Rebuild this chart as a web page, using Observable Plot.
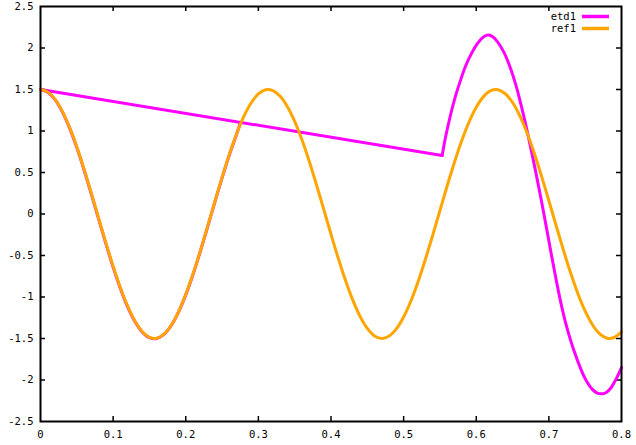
<!DOCTYPE html>
<html>
<head>
<meta charset="utf-8">
<script src="https://cdn.jsdelivr.net/npm/d3@7"></script>
<script src="https://cdn.jsdelivr.net/npm/@observablehq/plot@0.6"></script>
<style>
  html, body { margin: 0; padding: 0; background: #fff; }
  #wrap { position: relative; width: 636px; height: 445px; }
  #legend { position: absolute; right: 0; top: 0; font: 10.5px "DejaVu Sans Mono", monospace; }
  .row { position: absolute; white-space: nowrap; }
</style>
</head>
<body>
<div id="wrap"></div>
<script>
// ---- data ----
const xTicks = [0, 0.1, 0.2, 0.3, 0.4, 0.5, 0.6, 0.7, 0.8];
const yTicks = [-2.5, -2, -1.5, -1, -0.5, 0, 0.5, 1, 1.5, 2, 2.5];

// ref1 sampled every 0.01 from x = 0 to 0.8
const refX = d3.range(0, 81).map(i => +(i / 100).toFixed(2));
const refY = [1.5, 1.470, 1.381, 1.237, 1.043, 0.808, 0.540, 0.250, -0.049, -0.347,
  -0.630, -0.888, -1.111, -1.290, -1.416, -1.486, -1.497, -1.447, -1.340, -1.179,
  -0.970, -0.723, -0.447, -0.153, 0.147, 0.441, 0.717, 0.965, 1.175, 1.337,
  1.446, 1.496, 1.487, 1.419, 1.293, 1.116, 0.894, 0.636, 0.353, 0.056,
  -0.244, -0.534, -0.802, -1.038, -1.233, -1.378, -1.469, -1.500, -1.471, -1.384,
  -1.241, -1.048, -0.813, -0.546, -0.257, 0.042, 0.340, 0.624, 0.883, 1.107,
  1.286, 1.414, 1.485, 1.497, 1.449, 1.343, 1.183, 0.976, 0.729, 0.454,
  0.160, -0.140, -0.435, -0.712, -0.961, -1.171, -1.334, -1.444, -1.496, -1.488,
  -1.421];

// etd1, first piece (hidden under ref1)
const etdAX = [0, 0.01, 0.02, 0.03, 0.04, 0.05, 0.06, 0.07, 0.08, 0.09, 0.10, 0.11, 0.12, 0.13,
  0.14, 0.15, 0.16, 0.17, 0.18, 0.19, 0.20, 0.21, 0.22, 0.23, 0.24, 0.25, 0.26, 0.27, 0.275];
const etdAY = [1.5, 1.468, 1.378, 1.232, 1.037, 0.800, 0.531, 0.240, -0.059, -0.357,
  -0.640, -0.897, -1.119, -1.296, -1.421, -1.490, -1.500, -1.450, -1.343, -1.182,
  -0.974, -0.728, -0.452, -0.158, 0.142, 0.436, 0.712, 0.960, 1.09];

// etd1, second piece: straight run from x=0 to the kink, then the large oscillation
const etdBX = [0, 0.5531, 0.5577, 0.5645, 0.5714, 0.5783, 0.5852, 0.5944, 0.6013, 0.608,
  0.615, 0.622, 0.6288, 0.638, 0.647, 0.654, 0.661, 0.6678, 0.6747, 0.6816,
  0.6886, 0.6955, 0.7024, 0.7093, 0.716, 0.723, 0.7298, 0.7367, 0.7436, 0.7504,
  0.7596, 0.766, 0.772, 0.779, 0.785, 0.793, 0.8];
const etdBY = [1.5, 0.705, 0.925, 1.19, 1.42, 1.61, 1.78, 1.95, 2.05, 2.12,
  2.155, 2.14, 2.08, 1.95, 1.76, 1.57, 1.34, 1.09, 0.81, 0.52,
  0.21, -0.11, -0.44, -0.76, -1.05, -1.31, -1.52, -1.70, -1.86, -1.99,
  -2.11, -2.155, -2.167, -2.15, -2.10, -1.98, -1.85];

const seriesNames = ["etd1", "ref1"];
const seriesColors = ["#ff00ff", "#ffa500"];

// ---- tables ----
const ref = refX.map((x, i) => ({x, y: refY[i]}));
const etdA = etdAX.map((x, i) => ({x, y: etdAY[i]}));
const etdB = etdBX.map((x, i) => ({x, y: etdBY[i]}));
const etdStraight = etdB.slice(0, 2);
const etdCurve = etdB.slice(1);

const xTickLen = 0.8 * 5 / 581;   // ~5px in x units
const yTickLen = 5 * 5 / 415;     // ~5px in y units

const font = `"DejaVu Sans Mono", monospace`;

const chart = Plot.plot({
  width: 636,
  height: 445,
  marginLeft: 40,
  marginRight: 15,
  marginTop: 6,
  marginBottom: 24,
  style: {fontFamily: font, fontSize: "10.5px", color: "#000", background: "#fff"},
  x: {domain: [0, 0.8], label: null},
  y: {domain: [-2.5, 2.5], label: null},
  marks: [
    Plot.axisX({ticks: xTicks, tickSize: 0, tickPadding: 9, tickFormat: d => String(d), label: null}),
    Plot.axisY({ticks: yTicks, tickSize: 0, tickPadding: 7, tickFormat: d => String(d), label: null}),
    // inward ticks on all four sides
    Plot.ruleX(xTicks.slice(1, -1), {x: d => d, y1: -2.5, y2: -2.5 + yTickLen, stroke: "#000", strokeWidth: 1.5}),
    Plot.ruleX(xTicks.slice(1, -1), {x: d => d, y1: 2.5, y2: 2.5 - yTickLen, stroke: "#000", strokeWidth: 1.5}),
    Plot.ruleY(yTicks.slice(1, -1), {y: d => d, x1: 0, x2: xTickLen, stroke: "#000", strokeWidth: 1.5}),
    Plot.ruleY(yTicks.slice(1, -1), {y: d => d, x1: 0.8, x2: 0.8 - xTickLen, stroke: "#000", strokeWidth: 1.5}),
    // etd1
    Plot.line(etdA, {x: "x", y: "y", stroke: seriesColors[0], strokeWidth: 3, curve: "catmull-rom"}),
    Plot.line(etdStraight, {x: "x", y: "y", stroke: seriesColors[0], strokeWidth: 3}),
    Plot.line(etdCurve, {x: "x", y: "y", stroke: seriesColors[0], strokeWidth: 3, curve: "catmull-rom"}),
    // ref1
    Plot.line(ref, {x: "x", y: "y", stroke: seriesColors[1], strokeWidth: 3, curve: "catmull-rom"}),
    Plot.frame({stroke: "#000", strokeWidth: 2})
  ]
});

const wrap = document.getElementById("wrap");
wrap.appendChild(chart);

// legend (top right, inside the frame)
const legend = document.createElement("div");
legend.id = "legend";
legend.style.width = "636px";
legend.style.height = "40px";
seriesNames.forEach((name, i) => {
  const row = document.createElement("div");
  row.className = "row";
  row.style.top = (10 + i * 12) + "px";
  row.style.left = "0px";
  row.style.width = "636px";
  row.style.height = "12px";
  row.innerHTML =
    `<span style="position:absolute; right:${636 - 576}px; top:0; line-height:12px;">${name}</span>` +
    `<svg style="position:absolute; left:582px; top:0;" width="28" height="12"><line x1="0" x2="27" y1="6.5" y2="6.5" stroke="${seriesColors[i]}" stroke-width="3.5"/></svg>`;
  legend.appendChild(row);
});
wrap.appendChild(legend);
</script>
</body>
</html>
